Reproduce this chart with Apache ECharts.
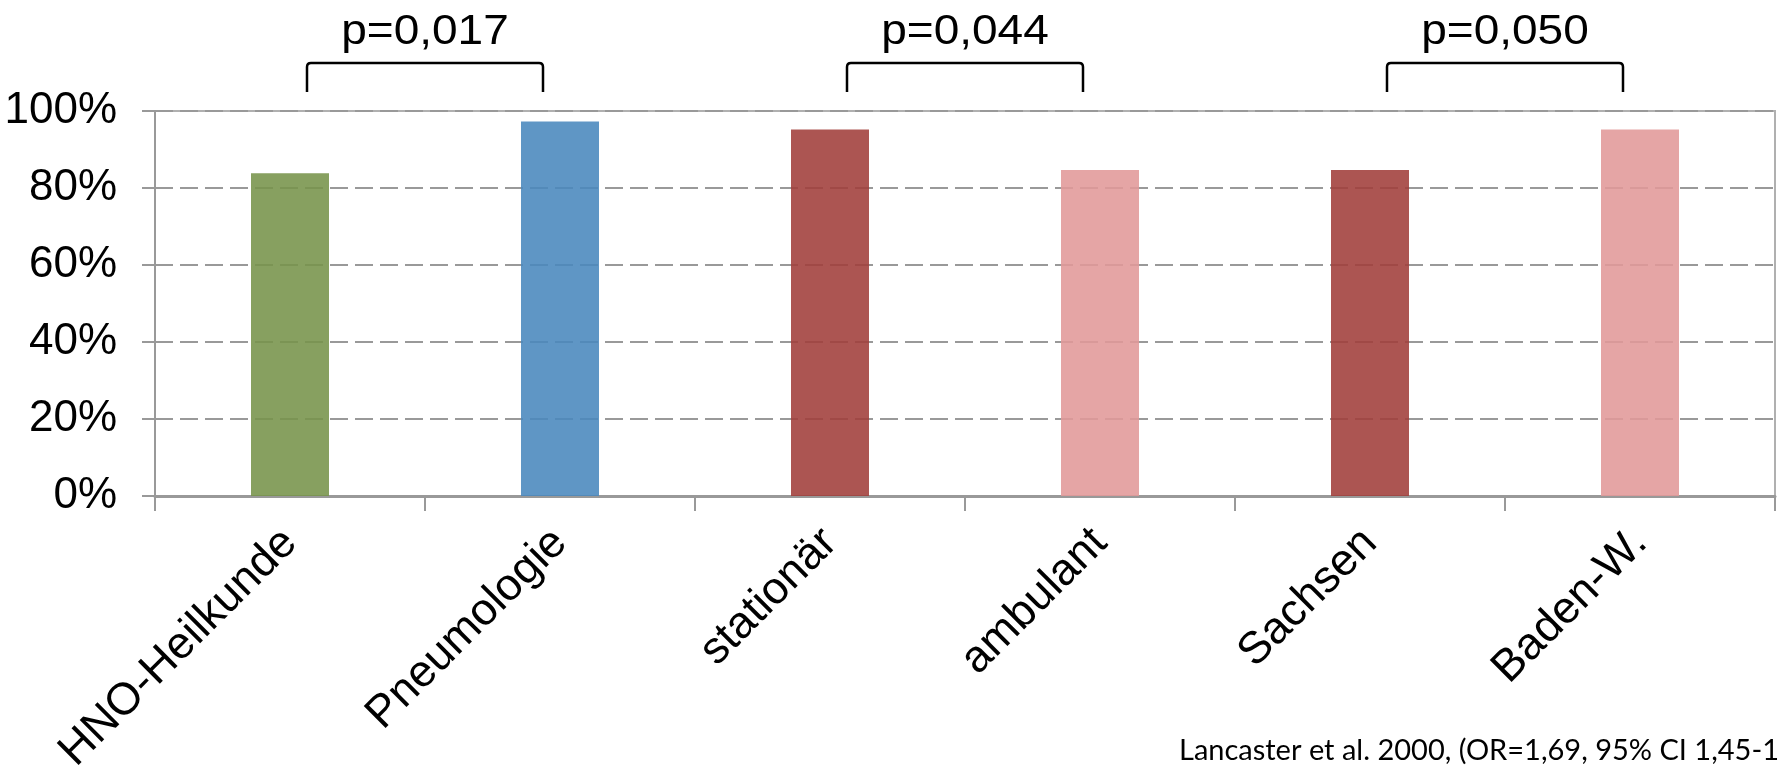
<!DOCTYPE html>
<html>
<head>
<meta charset="utf-8">
<script src="https://cdn.jsdelivr.net/npm/echarts@6/dist/echarts.min.js"></script>
<style>
html,body{margin:0;padding:0;background:#fff;}
#chart{width:1781px;height:769px;}
</style>
</head>
<body>
<div id="chart"></div>
<script>
const categories = ['HNO-Heilkunde', 'Pneumologie', 'stationär', 'ambulant', 'Sachsen', 'Baden-W.'];
const values = [83.8, 97.3, 95.2, 84.7, 84.7, 95.2];
const yTicks = [0, 20, 40, 60, 80, 100];
const comparisons = [[0, 1, 'p=0,017'], [2, 3, 'p=0,044'], [4, 5, 'p=0,050']];
const footnote = 'Lancaster et al. 2000, (OR=1,69, 95% CI 1,45-1';

const barColors = ['#76934A', '#4988BD', '#A03D3A', '#E19998', '#A03D3A', '#E19998'];
const FONT = '"Liberation Sans", Arial, sans-serif';

const chart = echarts.init(document.getElementById('chart'), null, {renderer: 'canvas'});

chart.setOption({
  animation: false,
  backgroundColor: '#ffffff',
  grid: {
    left: 155, right: 6, top: 111, bottom: 273,
    containLabel: false,
    outerBoundsMode: 'none',
    show: true, borderColor: '#b0b0b0', borderWidth: 2
  },
  xAxis: {
    type: 'category',
    data: categories,
    boundaryGap: true,
    axisLine: {show: true, lineStyle: {color: '#999999', width: 3}},
    axisTick: {show: true, length: 15, alignWithLabel: false, lineStyle: {color: '#999999', width: 2}},
    axisLabel: {
      rotate: 45, margin: 40, fontSize: 45, color: '#000000', fontFamily: FONT,
      interval: 0
    },
    splitLine: {show: false}
  },
  yAxis: {
    type: 'value',
    min: yTicks[0], max: yTicks[yTicks.length - 1], interval: 20,
    axisLine: {show: true, lineStyle: {color: '#999999', width: 2}},
    axisTick: {show: true, length: 13, lineStyle: {color: '#999999', width: 2}},
    axisLabel: {
      margin: 38, fontSize: 44, color: '#000000', fontFamily: FONT,
      formatter: v => v + '%'
    },
    splitLine: {show: true, lineStyle: {color: '#999999', width: 2, type: [18, 7]}}
  },
  series: [
    {
      type: 'bar',
      barWidth: 78,
      data: values.map((v, i) => ({value: v, itemStyle: {color: barColors[i], opacity: 0.88}})),
      z: 2
    },
    {
      type: 'custom',
      coordinateSystem: 'cartesian2d',
      clip: false,
      z: 5,
      data: comparisons,
      renderItem: function (params, api) {
        const a = api.value(0), b = api.value(1);
        const label = comparisons[params.dataIndex][2];
        const pa = api.coord([a, 100]);
        const pb = api.coord([b, 100]);
        const mid = (pa[0] + pb[0]) / 2;
        const half = 118;
        const x0 = mid - half, x1 = mid + half;
        const top = pa[1];
        const yH = top - 48, yB = top - 19;
        const r = 4;
        return {
          type: 'group',
          children: [
            {
              type: 'path',
              shape: {
                pathData: 'M' + x0 + ' ' + yB + ' L' + x0 + ' ' + (yH + r) +
                  ' Q' + x0 + ' ' + yH + ' ' + (x0 + r) + ' ' + yH +
                  ' L' + (x1 - r) + ' ' + yH +
                  ' Q' + x1 + ' ' + yH + ' ' + x1 + ' ' + (yH + r) +
                  ' L' + x1 + ' ' + yB
              },
              style: {fill: null, stroke: '#000000', lineWidth: 2.5}
            },
            {
              type: 'text',
              x: mid, y: top - 79,
              scaleX: 1.07,
              style: {
                x: 0, y: 0,
                text: label,
                align: 'center', verticalAlign: 'middle',
                fontSize: 43, fontFamily: FONT, fill: '#000000'
              }
            }
          ]
        };
      }
    }
  ],
  graphic: [
    {
      type: 'text',
      style: {
        x: 1779, y: 751,
        text: footnote,
        align: 'right', verticalAlign: 'middle',
        fontSize: 29, fontFamily: 'Lato, "Open Sans", sans-serif', fill: '#000000'
      }
    }
  ]
});
</script>
</body>
</html>
